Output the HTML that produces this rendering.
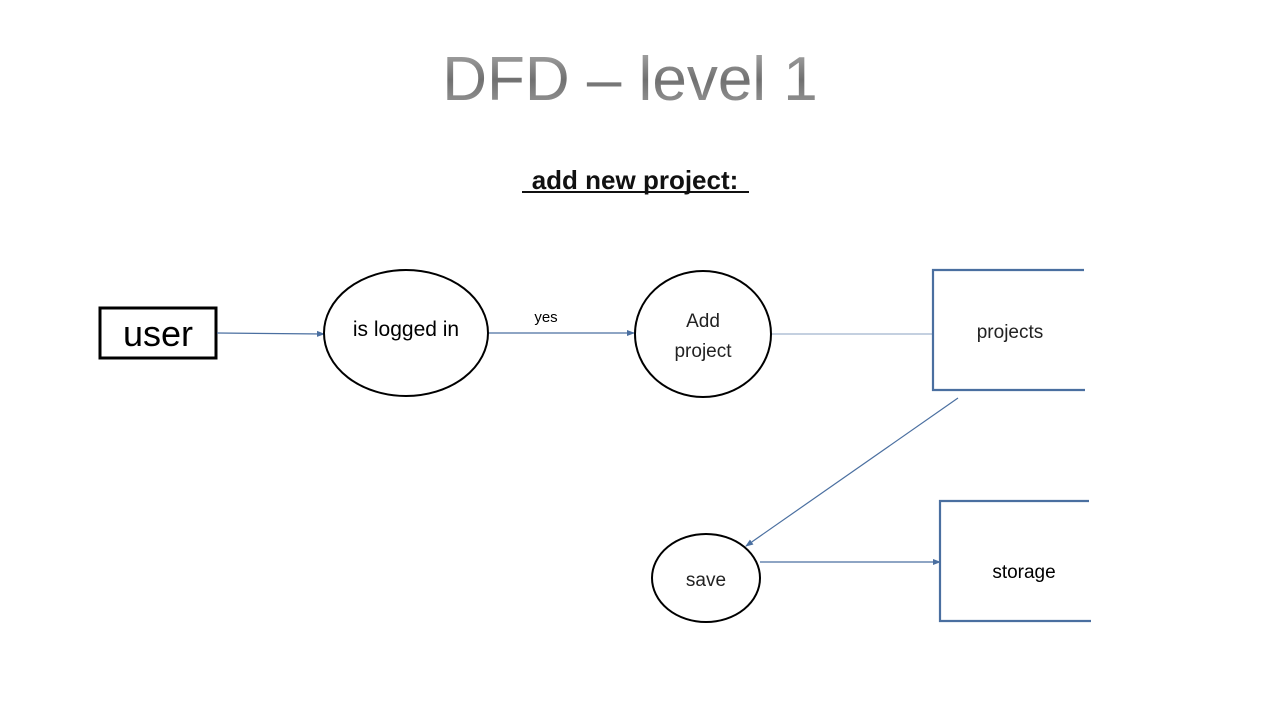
<!DOCTYPE html>
<html><head><meta charset="utf-8"><style>
body{margin:0;background:#fff;}
</style></head><body>
<svg width="1280" height="720" xmlns="http://www.w3.org/2000/svg" font-family="Liberation Sans, DejaVu Sans, sans-serif">
<defs>
<linearGradient id="g" x1="0" y1="0" x2="0" y2="1">
<stop offset="0" stop-color="#b0b0b0"/><stop offset="0.5" stop-color="#707070"/><stop offset="1" stop-color="#a0a0a0"/>
</linearGradient>
<marker id="a" markerWidth="8" markerHeight="8" refX="7" refY="4" orient="auto" markerUnits="userSpaceOnUse">
<path d="M0,1 L8,4 L0,7 z" fill="#4a6fa0"/></marker>
</defs>
<text x="630" y="100" text-anchor="middle" font-size="62" fill="url(#g)">DFD – level 1</text>
<text x="635" y="189" text-anchor="middle" font-size="26" font-weight="bold" fill="#111">add new project:</text>
<line x1="522" y1="192" x2="749" y2="192" stroke="#111" stroke-width="2"/>
<rect x="100" y="308" width="116" height="50" fill="none" stroke="#000" stroke-width="3"/>
<text x="158" y="346" text-anchor="middle" font-size="36" fill="#000">user</text>
<line x1="217" y1="333" x2="324" y2="334" stroke="#4a6fa0" stroke-width="1.2" marker-end="url(#a)"/>
<ellipse cx="406" cy="333" rx="82" ry="63" fill="none" stroke="#000" stroke-width="2"/>
<text x="406" y="336" text-anchor="middle" font-size="21" fill="#000">is logged in</text>
<line x1="489" y1="333" x2="634" y2="333" stroke="#4a6fa0" stroke-width="1.2" marker-end="url(#a)"/>
<text x="546" y="322" text-anchor="middle" font-size="15" fill="#000">yes</text>
<ellipse cx="703" cy="334" rx="68" ry="63" fill="none" stroke="#000" stroke-width="2"/>
<text x="703" y="327" text-anchor="middle" font-size="19" fill="#222">Add</text>
<text x="703" y="357" text-anchor="middle" font-size="19" fill="#222">project</text>
<line x1="772" y1="334" x2="932" y2="334" stroke="#8aa0c0" stroke-width="1"/>
<path d="M1084,270 H933 V390 H1085" fill="none" stroke="#4a6fa0" stroke-width="2.2"/>
<text x="1010" y="338" text-anchor="middle" font-size="19" fill="#222">projects</text>
<line x1="958" y1="398" x2="746" y2="546" stroke="#4a6fa0" stroke-width="1.2" marker-end="url(#a)"/>
<ellipse cx="706" cy="578" rx="54" ry="44" fill="none" stroke="#000" stroke-width="2"/>
<text x="706" y="586" text-anchor="middle" font-size="19" fill="#222">save</text>
<line x1="760" y1="562" x2="940" y2="562" stroke="#4a6fa0" stroke-width="1.2" marker-end="url(#a)"/>
<path d="M1089,501 H940 V621 H1091" fill="none" stroke="#4a6fa0" stroke-width="2.2"/>
<text x="1024" y="578" text-anchor="middle" font-size="19" fill="#000">storage</text>
</svg>
</body></html>
